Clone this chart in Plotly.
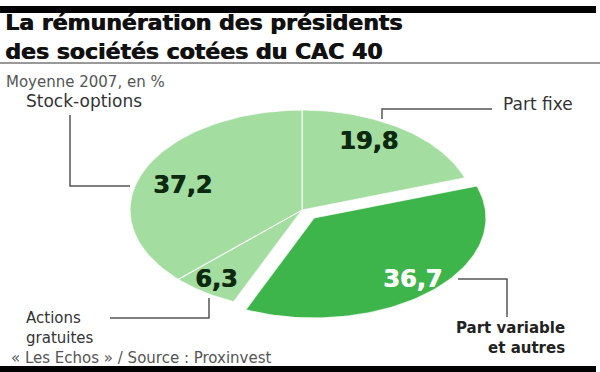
import numpy as np
import plotly.graph_objects as go

# ---- data ----
categories = ["Part fixe", "Part variable", "Actions gratuites", "Stock-options"]
values = [19.8, 36.7, 6.3, 37.2]
value_labels = ["19,8", "36,7", "6,3", "37,2"]

title_lines = ["La rémunération des présidents", "des sociétés cotées du CAC 40"]
subtitle = "Moyenne 2007, en %"
source = "« Les Echos » / Source : Proxinvest"

# ---- styling / geometry (pixel-like coordinates, y down) ----
W, H = 600, 372
cx, cy, a, b = 302, 210, 172, 100
colors = ["#a3dda0", "#3db54a", "#a3dda0", "#a3dda0"]
explode = [(0, 0), (12, 8), (0, 0), (0, 0)]
val_colors = ["#0d2a10", "white", "#0d2a10", "#0d2a10"]
val_pos = [(368, 141), (412, 279), (216, 279), (182, 185)]

fig = go.Figure()

total = sum(values)
start = 0.0
for i, v in enumerate(values):
    t0 = start / total * 2 * np.pi
    t1 = (start + v) / total * 2 * np.pi
    start += v
    t = np.linspace(t0, t1, 80)
    dx, dy = explode[i]
    xs = [cx + dx] + list(cx + dx + a * np.sin(t)) + [cx + dx]
    ys = [cy + dy] + list(cy + dy - b * np.cos(t)) + [cy + dy]
    fig.add_trace(go.Scatter(
        x=xs, y=ys, fill="toself", mode="lines",
        fillcolor=colors[i],
        line=dict(color="rgba(255,255,255,0.75)", width=1.2),
        hoverinfo="skip", showlegend=False))

heavy = "0.8px 0 0 %s"

# value labels
for i, lab in enumerate(value_labels):
    x, y = val_pos[i]
    fig.add_annotation(x=x, y=y, text="<b>%s</b>" % lab, showarrow=False,
                       font=dict(family="DejaVu Sans", size=24, color=val_colors[i],
                                 shadow=heavy % val_colors[i]),
                       xanchor="center", yanchor="middle")

# leader lines
leaders = [
    [(382, 119), (382, 109), (492, 109)],          # Part fixe
    [(458, 279), (507, 279), (507, 317)],          # Part variable
    [(209, 298), (209, 318), (110, 318)],          # Actions gratuites
    [(70, 115), (70, 186), (130, 186)],            # Stock-options
]
for pts in leaders:
    fig.add_trace(go.Scatter(x=[p[0] for p in pts], y=[p[1] for p in pts], mode="lines",
                             line=dict(color="#555555", width=1.5), hoverinfo="skip",
                             showlegend=False))

lab_font = dict(family="DejaVu Sans", size=17, color="#333333")
fig.add_annotation(x=501, y=104, text=categories[0], showarrow=False, font=lab_font,
                   xanchor="left", yanchor="middle")
fig.add_annotation(x=567, y=338, text="<b>" + categories[1] + "<br>et autres</b>",
                   showarrow=False, align="right",
                   font=dict(family="DejaVu Sans", size=15, color="#222222"),
                   xanchor="right", yanchor="middle")
fig.add_annotation(x=24, y=328, text=categories[2].replace(" ", "<br>"), showarrow=False,
                   align="left", font=dict(family="DejaVu Sans", size=15, color="#333333"),
                   xanchor="left", yanchor="middle")
fig.add_annotation(x=24, y=101, text=categories[3], showarrow=False, font=lab_font,
                   xanchor="left", yanchor="middle")

# title (single two-line text block)
tfont = dict(family="DejaVu Sans", size=22, color="#111111", shadow="0.8px 0 0 #111111")
fig.add_annotation(x=3, y=37, text="<b>" + "<br>".join(title_lines) + "</b>",
                   showarrow=False, align="left",
                   font=tfont, xanchor="left", yanchor="middle")
fig.add_annotation(x=4, y=82, text=subtitle, showarrow=False,
                   font=dict(family="DejaVu Sans", size=15, color="#555555"),
                   xanchor="left", yanchor="middle")
fig.add_annotation(x=9, y=358, text=source, showarrow=False,
                   font=dict(family="DejaVu Sans", size=15, color="#555555"),
                   xanchor="left", yanchor="middle")

shapes = [
    dict(type="rect", x0=0, x1=596, y0=6, y1=13, fillcolor="black", line_width=0),
    dict(type="line", x0=0, x1=600, y0=63, y1=63, line=dict(color="#777777", width=1.5)),
    dict(type="rect", x0=0, x1=596, y0=366, y1=372, fillcolor="black", line_width=0),
]

fig.update_layout(
    width=W, height=H, margin=dict(l=0, r=0, t=0, b=0),
    paper_bgcolor="white", plot_bgcolor="white",
    xaxis=dict(range=[0, W], visible=False, fixedrange=True),
    yaxis=dict(range=[H, 0], visible=False, fixedrange=True),
    shapes=shapes, showlegend=False,
)
fig.write_html("out.html", config={"displayModeBar": False},
               post_script="document.body.style.margin='0px';document.body.style.overflow='hidden';")
